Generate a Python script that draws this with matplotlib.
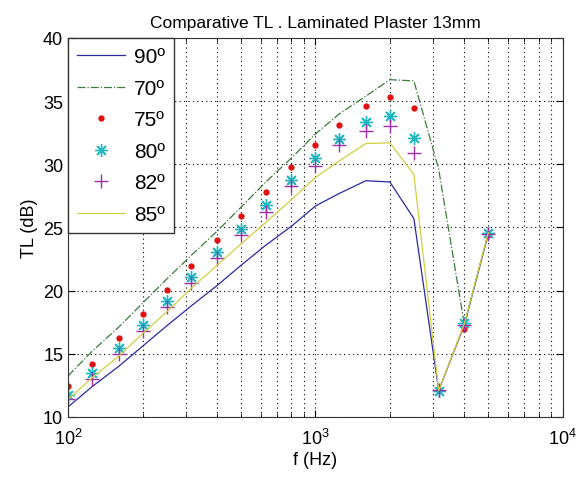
import matplotlib
matplotlib.use("Agg")
import matplotlib.pyplot as plt
from matplotlib.ticker import FixedLocator, LogLocator, NullFormatter
import numpy as np

plt.rcParams["font.family"] = ["Liberation Sans", "DejaVu Sans"]
plt.rcParams["mathtext.fontset"] = "custom"
plt.rcParams["mathtext.rm"] = "Liberation Sans"
plt.rcParams["mathtext.default"] = "regular"

# third-octave band centres
freq = [100, 125, 160, 200, 250, 315, 400, 500, 630, 800, 1000,
        1250, 1600, 2000, 2500, 3150, 4000, 5000]

tl_90 = [10.8, 12.4, 14.0, 15.6, 17.2, 18.8, 20.4, 22.0, 23.6, 25.1, 26.7,
         27.7, 28.7, 28.6, 25.7, 12.1, 17.3, 24.5]
tl_70 = [13.25, 15.2, 17.1, 19.0, 20.9, 22.8, 24.7, 26.6, 28.6, 30.5, 32.4,
         34.0, 35.4, 36.7, 36.6, 29.6, 17.3, 24.6]
tl_75 = [12.46, 14.18, 16.26, 18.14, 20.04, 21.96, 24.02, 25.9, 27.8, 29.8, 31.5,
         33.15, 34.58, 35.3, 34.47, 12.1, 17.0, 24.4]
tl_80 = [11.75, 13.5, 15.44, 17.29, 19.19, 21.1, 23.07, 24.9, 26.8, 28.77, 30.46,
         31.99, 33.36, 33.8, 32.1, 12.07, 17.4, 24.6]
tl_82 = [11.46, 13.0, 15.02, 16.84, 18.68, 20.57, 22.55, 24.4, 26.25, 28.3, 29.9,
         31.5, 32.65, 33.05, 30.9, 12.1, 17.3, 24.5]
tl_85 = [11.4, 13.1, 14.8, 16.6, 18.3, 20.2, 22.0, 23.7, 25.4, 27.2, 28.96,
         30.27, 31.65, 31.7, 29.2, 12.1, 17.4, 24.6]

fig = plt.figure(figsize=(5.82, 4.81), dpi=100)
ax = fig.add_axes([0.117, 0.131, 0.850, 0.788])

ax.semilogx(freq, tl_90, "-", color="#2a2aa0", linewidth=0.9, label="90º")
ax.semilogx(freq, tl_70, "-.", color="#3d7a3d", linewidth=0.9, label="70º")
ax.semilogx(freq, tl_75, ".", color="#e01010", markersize=7, label="75º")
ax.semilogx(freq, tl_80, linestyle="none", marker=(8, 2, 0), color="#20b8c0",
            markersize=9, markeredgewidth=1.0, label="80º")
ax.semilogx(freq, tl_82, "+", color="#a030a8", markersize=10,
            markeredgewidth=1.0, label="82º")
ax.semilogx(freq, tl_85, "-", color="#d0d040", linewidth=0.9, label="85º")

ax.set_xlim(100, 10000)
ax.set_ylim(10, 40)
ax.xaxis.set_major_locator(FixedLocator([100, 1000, 10000]))
ax.set_xticklabels(["$10^{2}$", "$10^{3}$", "$10^{4}$"])
ax.xaxis.set_minor_locator(LogLocator(base=10, subs=np.arange(2, 10)))
ax.xaxis.set_minor_formatter(NullFormatter())
ax.set_yticks([10, 15, 20, 25, 30, 35, 40])

dots = (0, (1, 3))
ax.grid(True, which="major", linestyle=dots, color="black", linewidth=0.8)
ax.grid(True, which="minor", axis="x", linestyle=dots, color="black", linewidth=0.8)
ax.tick_params(which="both", direction="in", top=True, right=True)
ax.tick_params(which="major", length=5, labelsize=13)
ax.tick_params(axis="x", which="major", pad=8)
ax.tick_params(which="minor", length=3)
for s in ax.spines.values():
    s.set_color("#333333")

ax.set_xlabel("f (Hz)", fontsize=13, labelpad=2)
ax.set_ylabel("TL (dB)", fontsize=13)
ax.set_title("Comparative TL . Laminated Plaster 13mm", fontsize=12.5, pad=8)

leg = ax.legend(loc="upper left", fontsize=15, handlelength=2.3,
                borderaxespad=0, fancybox=False, framealpha=1,
                labelspacing=0.6, borderpad=0.45, handletextpad=0.4)
leg.get_frame().set_edgecolor("#333333")

fig.savefig("out.png", dpi=100)
